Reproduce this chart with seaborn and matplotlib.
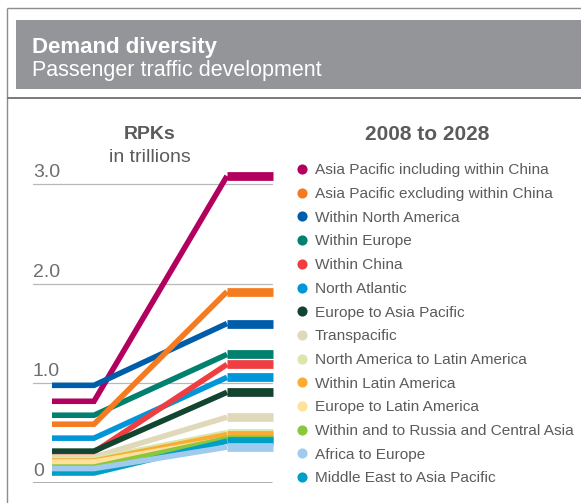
import matplotlib
matplotlib.use("Agg")
import matplotlib.pyplot as plt
from matplotlib.patches import Rectangle
import pandas as pd
import seaborn as sns

# ---- data -------------------------------------------------------------
routes = [
    "Asia Pacific including within China",
    "Asia Pacific excluding within China",
    "Within North America",
    "Within Europe",
    "Within China",
    "North Atlantic",
    "Europe to Asia Pacific",
    "Transpacific",
    "North America to Latin America",
    "Within Latin America",
    "Europe to Latin America",
    "Within and to Russia and Central Asia",
    "Africa to Europe",
    "Middle East to Asia Pacific",
]
rpk_2008 = [0.82, 0.59, 0.98, 0.68, 0.31, 0.45, 0.32, 0.26, 0.24, 0.22, 0.21, 0.16, 0.145, 0.10]
rpk_2028 = [3.08, 1.92, 1.60, 1.29, 1.19, 1.06, 0.91, 0.66, 0.505, 0.485, 0.44, 0.445, 0.36, 0.42]
colors = [
    "#B3005E", "#F47B20", "#005DAA", "#00806F", "#EF3E42", "#0096D9", "#12452F",
    "#E0D9B9", "#D9E7A9", "#FBAA33", "#FEE29B", "#8CC63F", "#A0CBEE", "#00A0C6",
]
y_ticks = [0, 1, 2, 3]
y_tick_labels = ["0", "1.0", "2.0", "3.0"]

# stacking order of the lines (first drawn sits underneath)
draw_order = [
    "Asia Pacific including within China",
    "Within North America",
    "Within Europe",
    "Asia Pacific excluding within China",
    "North Atlantic",
    "Within China",
    "Europe to Asia Pacific",
    "Transpacific",
    "North America to Latin America",
    "Within Latin America",
    "Europe to Latin America",
    "Within and to Russia and Central Asia",
    "Middle East to Asia Pacific",
    "Africa to Europe",
]

# ---- figure geometry (pixels) -----------------------------------------
W, H, DPI = 581, 503, 100
TXT = "#5A5B5D"
X_START, X_BEND, X_RISE_END, X_END = 0, 42, 175, 221   # horizontal layout of each line

sns.set_style("white")
plt.rcParams["font.family"] = ["Liberation Sans", "DejaVu Sans"]

fig = plt.figure(figsize=(W / DPI, H / DPI), dpi=DPI)
fig.patch.set_facecolor("white")

# overlay in pixel coordinates for frame, header and legend
bg = fig.add_axes([0, 0, 1, 1], zorder=0)
bg.set_xlim(0, W)
bg.set_ylim(H, 0)
bg.axis("off")

bg.plot([7, W], [8, 8], color="#8C8C8C", lw=1.0, solid_capstyle="butt")
bg.plot([7, 7], [8, H], color="#8C8C8C", lw=1.0, solid_capstyle="butt")
bg.plot([7, W], [98, 98], color="#7A7A7A", lw=1.4, solid_capstyle="butt")
bg.add_patch(Rectangle((16, 20), W - 16, 69, facecolor="#939598", edgecolor="none"))
bg.text(32, 53, "Demand diversity", color="white", fontsize=16,
        fontweight="bold", va="baseline", ha="left")
bg.text(32, 75.5, "Passenger traffic development", color="white", fontsize=15.5,
        va="baseline", ha="left")

bg.text(150, 139, "RPKs", color=TXT, fontsize=14, fontweight="bold",
        ha="center", va="baseline")
bg.text(150, 161.5, "in trillions", color=TXT, fontsize=14,
        ha="center", va="baseline")
bg.text(427, 140, "2008 to 2028", color=TXT, fontsize=15, fontweight="bold",
        ha="center", va="baseline")

# legend
for i, (name, col) in enumerate(zip(routes, colors)):
    yc = 169 + i * 23.7
    bg.plot([301.7], [yc], marker="o", markersize=7.3, color=col,
            markeredgewidth=0, linestyle="none")
    bg.text(315, yc + 5.4, name, color=TXT, fontsize=11.1,
            ha="left", va="baseline")

# ---- chart axes -------------------------------------------------------
px_per_unit = (483 - 184) / 3.0
y_top = 3.2
ax = fig.add_axes([33 / W, (H - 483) / H, 240 / W, y_top * px_per_unit / H], zorder=1)
ax.patch.set_alpha(0)

for t, lab in zip(y_ticks, y_tick_labels):
    ax.axhline(t, xmin=0, xmax=239 / 240,
               color="#9A9A9A" if t == 0 else "#B8B8B8",
               lw=1.1 if t == 0 else 0.9, zorder=0.5)
    ax.text(-19, t + 7 / px_per_unit, lab, color="#6D6E71", fontsize=14,
            ha="left", va="baseline")

rise_rows, flat_rows = [], []
for name, a, b in zip(routes, rpk_2008, rpk_2028):
    rise_rows += [(name, X_START, a), (name, X_BEND, a), (name, X_RISE_END, b)]
    flat_rows += [(name, X_RISE_END, b), (name, X_END, b)]
rise = pd.DataFrame(rise_rows, columns=["route", "pos", "rpk"])
flat = pd.DataFrame(flat_rows, columns=["route", "pos", "rpk"])
palette = dict(zip(routes, colors))

sns.lineplot(data=rise, x="pos", y="rpk", hue="route", hue_order=draw_order,
             palette=palette, estimator=None, sort=False, legend=False,
             linewidth=4.0, solid_capstyle="butt", solid_joinstyle="miter",
             clip_on=False, ax=ax)
sns.lineplot(data=flat, x="pos", y="rpk", hue="route", hue_order=draw_order,
             palette=palette, estimator=None, sort=False, legend=False,
             linewidth=6.3, solid_capstyle="butt", clip_on=False, ax=ax)
ax.set_xlim(-19, 221)
ax.set_ylim(0, y_top)
ax.axis("off")

fig.savefig("out.png", dpi=DPI, facecolor="white")
